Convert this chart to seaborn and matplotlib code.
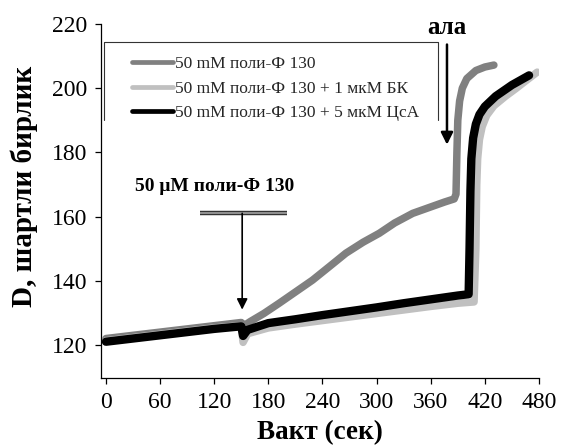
import numpy as np
import pandas as pd
import matplotlib
matplotlib.use("Agg")
import matplotlib.pyplot as plt
import matplotlib.patheffects as pe
from matplotlib.lines import Line2D
import seaborn as sns

# Time points (s) and optical density readings for each condition
t_poly = [0, 30, 60, 90, 120, 150, 153, 160, 175, 192, 210, 229, 248, 266, 285,
          303, 320, 340, 360, 375, 386, 388, 389, 390, 392, 395, 400, 410, 420, 430]
d_poly = [122, 123, 124, 125, 126, 127, 126, 127.3, 129.8, 133, 136.5, 140.2,
          144.5, 148.6, 152, 154.8, 158, 161, 163, 164.5, 165.5, 167, 180, 190,
          196, 200, 203, 205.5, 206.6, 207.2]

t_bk = [0, 30, 60, 90, 120, 150, 152, 157, 180, 210, 240, 270, 300, 330, 360,
        390, 408, 410, 411, 412, 414, 417, 422, 430, 443, 455, 465, 478]
d_bk = [121.3, 122.3, 123.3, 124.3, 125.3, 126, 120.8, 123.5, 125.3, 126.5,
        127.6, 128.7, 129.8, 130.9, 132, 133, 133.4, 150, 170, 178, 184, 188,
        191.5, 194.5, 197.5, 200, 202.2, 205]

t_csa = [0, 30, 60, 90, 120, 150, 152, 157, 180, 210, 240, 270, 300, 330, 360,
         390, 402, 403, 404, 405, 407, 410, 414, 420, 432, 450, 469]
d_csa = [121, 122, 123, 124, 125, 125.8, 122.8, 124.7, 126.8, 128, 129.3, 130.5,
         131.7, 133, 134.2, 135.4, 135.8, 150, 168, 178, 184.5, 188.8, 191.8,
         194.3, 197.5, 201, 204]

series_labels = ["50 mM поли-Ф 130",
                 "50 mM поли-Ф 130 + 1 мкМ БК",
                 "50 mM поли-Ф 130 + 5 мкМ ЦсА"]
series_colors = ["#808080", "#c0c0c0", "#000000"]
series_widths = [5.4, 5.4, 6.0]

x_ticks = [0, 60, 120, 180, 240, 300, 360, 420, 480]
y_ticks = [120, 140, 160, 180, 200, 220]

# Annotation positions (time, D)
poly_add_t, poly_add_top, poly_add_tip = 151, 161, 131
poly_bar = (104, 201)
ala_t, ala_top, ala_tip = 378, 213.6, 182.4

sns.set_theme(style="ticks")
plt.rcParams["font.family"] = ["Liberation Serif", "DejaVu Serif"]

frames = []
for lab, tt, dd in zip(series_labels, [t_poly, t_bk, t_csa], [d_poly, d_bk, d_csa]):
    frames.append(pd.DataFrame({"t": tt, "D": dd, "series": lab}))
df = pd.concat(frames, ignore_index=True)

fig = plt.figure(figsize=(5.62, 4.47), dpi=100)
ax = fig.add_axes([101 / 562, 1 - 378 / 447, 438 / 562, 354 / 447])

for lab, col, lw in zip(series_labels, series_colors, series_widths):
    sns.lineplot(data=df[df["series"] == lab], x="t", y="D", color=col,
                 estimator=None, sort=False, linewidth=lw,
                 solid_capstyle="round", solid_joinstyle="round", ax=ax)

ax.set_xlim(-5.5, 480)
ax.set_ylim(109.7, 220)
ax.set_xticks(x_ticks)
ax.set_yticks(y_ticks)
ax.tick_params(axis="both", direction="out", length=4, width=0.9, color="black",
               labelsize=17, pad=6, labelcolor="black")
for side in ["top", "right"]:
    ax.spines[side].set_visible(False)
for side in ["left", "bottom"]:
    ax.spines[side].set_color("black")
    ax.spines[side].set_linewidth(0.9)

ax.set_xlabel("Вакт (сек)", fontsize=19.5, fontweight="bold", color="black", labelpad=5)
ax.set_ylabel("D, шартли бирлик", fontsize=21, fontweight="bold", color="black")
ax.yaxis.set_label_coords(-0.143, 0.54)

# Legend with an open-bottom frame
handles = [Line2D([0], [0], color=c, lw=3.4, solid_capstyle="round") for c in series_colors]
ax.legend(handles, series_labels, loc="upper left", bbox_to_anchor=(0.07, 0.909),
          frameon=False, fontsize=12.5, handlelength=2.4, handletextpad=0.1,
          labelspacing=0.48, borderpad=0, borderaxespad=0)
ax.plot([0.007, 0.007, 0.769, 0.769], [0.729, 0.949, 0.949, 0.729],
        transform=ax.transAxes, color="#333333", lw=0.8, clip_on=False)

# Poly-P addition marker
ax.plot(poly_bar, [poly_add_top, poly_add_top], color="#9a9a9a", lw=1.3,
        solid_capstyle="butt",
        path_effects=[pe.Stroke(linewidth=3.2, foreground="#333333"), pe.Normal()])
ax.annotate("", xy=(poly_add_t, poly_add_tip), xytext=(poly_add_t, poly_add_top),
            arrowprops=dict(arrowstyle="-|>", color="black", lw=1.2,
                            mutation_scale=16, shrinkA=0, shrinkB=0))
ax.text(121, 169.3, "50 μM поли-Ф 130", fontsize=14, fontweight="bold",
        ha="center", va="center", color="black")

# Alamethicin addition marker
ax.annotate("", xy=(ala_t, ala_tip), xytext=(ala_t, ala_top),
            arrowprops=dict(arrowstyle="-|>", color="black", lw=1.8,
                            mutation_scale=18, shrinkA=0, shrinkB=0),
            annotation_clip=False)
ax.text(ala_t, 218.9, "ала", fontsize=18, fontweight="bold", ha="center",
        va="center", color="black", clip_on=False)

fig.savefig("out.png", dpi=100, facecolor="white")
